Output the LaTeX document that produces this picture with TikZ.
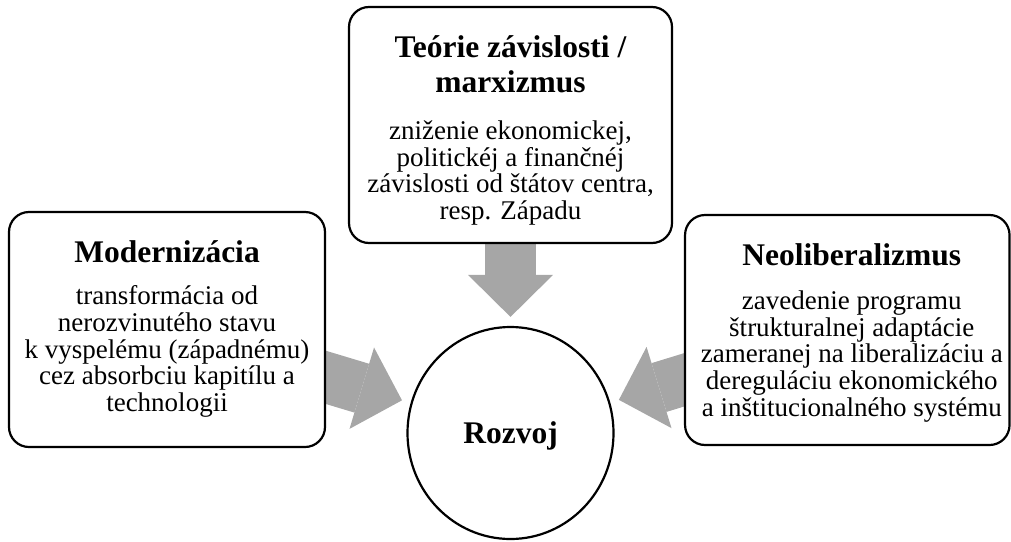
\documentclass[tikz,border=0pt]{standalone}
\usepackage{fontspec}
\setmainfont{Liberation Serif}
\usepackage{tikz}
\usetikzlibrary{arrows.meta, positioning, shapes.geometric, backgrounds}

\definecolor{flowgray}{RGB}{166,166,166}

\begin{document}
\begin{tikzpicture}[x=1pt, y=-1pt,
    theory/.style={draw, line width=2.2pt, rounded corners=20pt, fill=white},
    heading/.style={font=\fontsize{31.5}{35}\selectfont\bfseries, align=center, inner sep=0pt},
    detail/.style={font=\fontsize{27}{26.6}\selectfont, align=center, inner sep=0pt},
    flow/.style={flowgray, line width=51pt,
      -{Triangle[length=42pt, width=85pt, line width=0pt]},
      shorten <=-15pt, shorten >=9pt}]

  \useasboundingbox (0,0) rectangle (1011,541);

  % Centre
  \node[ellipse, draw, line width=2.2pt, fill=white, minimum width=206pt,
        minimum height=212pt, inner sep=0pt, text depth=0pt,
        font=\fontsize{31.5}{35}\selectfont\bfseries] (rozvoj) at (510.5,433) {Rozvoj};

  % Top box
  \node[theory, minimum width=323pt, minimum height=236pt] (zavislost) at (510.5,125) {};
  \node[heading, below=29.4pt of zavislost.north] (zavislosthead)
    {Teórie závislosti /\\ marxizmus};
  \node[detail, below=27.6pt of zavislosthead] (zavislostbody)
    {zniženie ekonomickej,\\ politickéj a finančnéj\\ závislosti od štátov centra,\\ resp. Západu};

  % Left box
  \node[theory, minimum width=316pt, minimum height=235pt] (modern) at (167,329.5) {};
  \node[heading, below=29.6pt of modern.north] (modernhead) {Modernizácia};
  \node[detail, below=22.6pt of modernhead] (modernbody)
    {transformácia od\\ nerozvinutého stavu\\ k vyspelému (západnému)\\ cez absorbciu kapitílu a\\ technologii};

  % Right box
  \node[theory, minimum width=324.5pt, minimum height=230pt] (neolib) at (847.3,330) {};
  \node[heading, below=29.6pt of neolib.north, xshift=4.5pt] (neolibhead) {Neoliberalizmus};
  \node[detail, below=24.6pt of neolibhead] (neolibbody)
    {zavedenie programu\\ štrukturalnej adaptácie\\ zameranej na liberalizáciu a\\ dereguláciu ekonomického\\ a inštitucionalného systému};

  % Block arrows into the centre
  \begin{scope}[on background layer]
    \draw[flow] (zavislost) -- (rozvoj);
    \draw[flow] (modern) -- (rozvoj);
    \draw[flow] (neolib) -- (rozvoj);
  \end{scope}

\end{tikzpicture}
\end{document}
